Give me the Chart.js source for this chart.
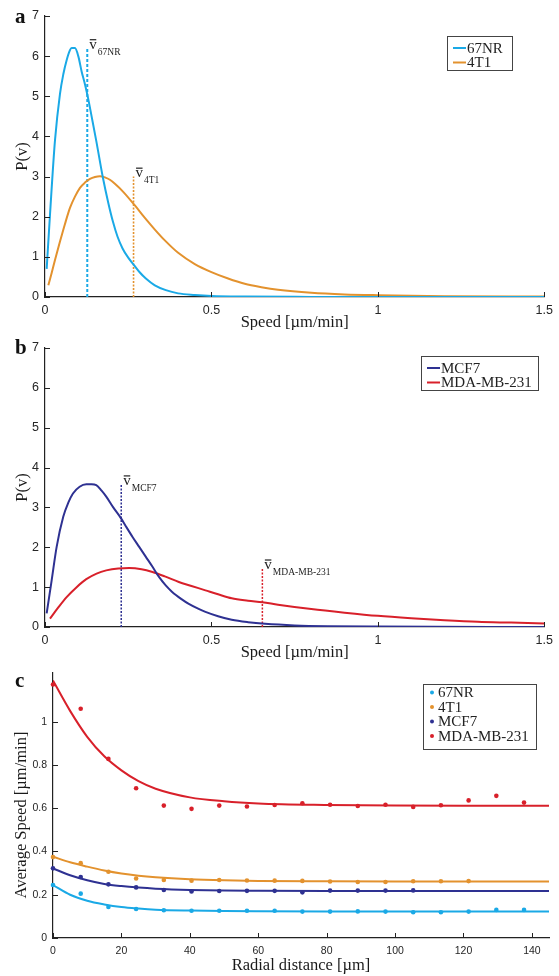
<!DOCTYPE html>
<html>
<head>
<meta charset="utf-8">
<script src="https://cdn.jsdelivr.net/npm/chart.js@4.4.1/dist/chart.umd.min.js"></script>
<style>
body { margin: 0; background: #fff; }
canvas { position: absolute; left: 0; }
</style>
</head>
<body>
<canvas id="chartA" width="559" height="330" style="top:0px"></canvas>
<canvas id="chartB" width="559" height="330" style="top:330px"></canvas>
<canvas id="chartC" width="559" height="316" style="top:660px"></canvas>
<script>
// panel a: speed distributions
const nr67Speed = [0.005, 0.015, 0.03, 0.045, 0.055, 0.065, 0.075, 0.08, 0.09, 0.10, 0.11, 0.12, 0.13, 0.14, 0.154, 0.174, 0.19, 0.204, 0.218, 0.233, 0.25, 0.268, 0.285, 0.303, 0.33, 0.363, 0.40, 0.45, 0.50, 0.60, 0.80, 1.0, 1.5];
const nr67Prob = [0.7, 2.05, 3.9, 5.06, 5.55, 5.9, 6.15, 6.2, 6.2, 6.0, 5.62, 5.3, 4.93, 4.5, 3.89, 2.97, 2.35, 1.88, 1.5, 1.21, 0.98, 0.79, 0.61, 0.46, 0.29, 0.17, 0.09, 0.05, 0.025, 0.01, 0.003, 0.001, 0];
const t41Speed = [0.01, 0.02, 0.03, 0.045, 0.06, 0.075, 0.09, 0.105, 0.12, 0.135, 0.15, 0.165, 0.18, 0.195, 0.21, 0.235, 0.27, 0.30, 0.33, 0.36, 0.40, 0.45, 0.50, 0.55, 0.60, 0.65, 0.70, 0.80, 0.90, 1.0, 1.2, 1.5];
const t41Prob = [0.29, 0.6, 0.92, 1.38, 1.82, 2.22, 2.5, 2.72, 2.85, 2.94, 2.99, 3.01, 2.98, 2.92, 2.82, 2.62, 2.28, 1.97, 1.68, 1.41, 1.1, 0.82, 0.62, 0.46, 0.33, 0.245, 0.18, 0.105, 0.065, 0.045, 0.02, 0.01];

// panel b
const mcf7Speed = [0.005, 0.02, 0.035, 0.055, 0.07, 0.084, 0.104, 0.124, 0.14, 0.154, 0.17, 0.184, 0.205, 0.229, 0.245, 0.263, 0.283, 0.303, 0.323, 0.343, 0.362, 0.382, 0.41, 0.432, 0.46, 0.482, 0.52, 0.561, 0.61, 0.661, 0.75, 0.85, 1.0, 1.5];
const mcf7Prob = [0.34, 1.17, 2.01, 2.77, 3.12, 3.35, 3.52, 3.58, 3.58, 3.56, 3.42, 3.27, 3.0, 2.72, 2.5, 2.26, 2.01, 1.76, 1.51, 1.25, 1.05, 0.88, 0.7, 0.58, 0.46, 0.38, 0.27, 0.18, 0.12, 0.08, 0.04, 0.02, 0.01, 0];
const mdaSpeed = [0.015, 0.04, 0.065, 0.095, 0.124, 0.155, 0.184, 0.22, 0.253, 0.29, 0.323, 0.36, 0.402, 0.44, 0.482, 0.52, 0.561, 0.61, 0.653, 0.70, 0.80, 0.90, 1.0, 1.1, 1.2, 1.3, 1.4, 1.5];
const mdaProb = [0.21, 0.49, 0.75, 1.0, 1.2, 1.34, 1.42, 1.47, 1.48, 1.45, 1.38, 1.27, 1.13, 1.03, 0.92, 0.82, 0.72, 0.66, 0.62, 0.56, 0.45, 0.36, 0.28, 0.22, 0.17, 0.13, 0.11, 0.09];

// mean speeds (x) and heights of the marker lines
const meanNames = ['67NR', '4T1', 'MCF7', 'MDA-MB-231'];
const meanSpeed = [0.127, 0.266, 0.229, 0.653];
const meanTop = [6.2, 3.0, 3.58, 1.47];

// panel c: average speed vs radial distance
const radialDist = [0, 8.1, 16.2, 24.3, 32.4, 40.5, 48.6, 56.7, 64.8, 72.9, 81, 89.1, 97.2, 105.3, 113.4, 121.5, 129.6, 137.7];
const nr67Avg = [0.245, 0.205, 0.143, 0.134, 0.128, 0.126, 0.126, 0.126, 0.126, 0.122, 0.122, 0.123, 0.122, 0.119, 0.119, 0.122, 0.13, 0.13];
const t41Avg = [0.374, 0.346, 0.306, 0.275, 0.268, 0.265, 0.268, 0.266, 0.265, 0.264, 0.261, 0.259, 0.259, 0.262, 0.262, 0.263];
const mcf7Avg = [0.322, 0.282, 0.248, 0.234, 0.222, 0.215, 0.217, 0.218, 0.218, 0.211, 0.219, 0.219, 0.219, 0.22];
const mdaAvg = [1.172, 1.06, 0.828, 0.692, 0.612, 0.597, 0.612, 0.608, 0.615, 0.623, 0.616, 0.61, 0.616, 0.606, 0.614, 0.636, 0.657, 0.626];

const fitDist = [0, 5, 10, 15, 20, 25, 30, 40, 50, 60, 80, 100, 120, 145];
const nr67Fit = [0.245, 0.2, 0.172, 0.155, 0.143, 0.136, 0.131, 0.127, 0.125, 0.124, 0.123, 0.123, 0.123, 0.123];
const t41Fit = [0.376, 0.35, 0.33, 0.312, 0.298, 0.288, 0.281, 0.272, 0.267, 0.264, 0.262, 0.261, 0.261, 0.261];
const mcf7Fit = [0.322, 0.29, 0.267, 0.25, 0.24, 0.233, 0.228, 0.222, 0.219, 0.218, 0.217, 0.217, 0.217, 0.217];
const mdaFit = [1.19, 1.05, 0.93, 0.84, 0.775, 0.725, 0.69, 0.65, 0.632, 0.622, 0.615, 0.612, 0.611, 0.611];

const colors = { '67NR': '#1aa9e6', '4T1': '#e3922e', 'MCF7': '#2e3192', 'MDA-MB-231': '#d8202a' };
const SERIF = '"Liberation Serif", "Times New Roman", serif';
const SANS = '"Liberation Sans", Arial, sans-serif';

function pairs(xs, ys) {
    return xs.slice(0, ys.length).map((x, i) => ({ x: x, y: ys[i] }));
}

// ticks pointing into the plot, like the original
const innerTicks = {
    id: 'innerTicks',
    afterDatasetsDraw(chart) {
        const ctx = chart.ctx;
        const xs = chart.scales.x, ys = chart.scales.y;
        ctx.save();
        ctx.strokeStyle = '#222';
        ctx.lineWidth = 1;
        xs.ticks.forEach(t => {
            const px = Math.round(xs.getPixelForValue(t.value)) + 0.5;
            ctx.beginPath();
            ctx.moveTo(px, ys.bottom);
            ctx.lineTo(px, ys.bottom - 5);
            ctx.stroke();
        });
        ys.ticks.forEach(t => {
            const py = Math.round(ys.getPixelForValue(t.value)) + 0.5;
            ctx.beginPath();
            ctx.moveTo(xs.left, py);
            ctx.lineTo(xs.left + 5, py);
            ctx.stroke();
        });
        ctx.restore();
    }
};

// boxed legend placed inside the plot
const boxLegend = {
    id: 'boxLegend',
    afterDraw(chart, args, opts) {
        const ctx = chart.ctx;
        const items = chart.data.datasets.filter(d => d.inLegend);
        ctx.save();
        ctx.fillStyle = '#fff';
        ctx.fillRect(opts.x, opts.y, opts.w, opts.h);
        ctx.strokeStyle = '#444';
        ctx.lineWidth = 1;
        ctx.strokeRect(opts.x + 0.5, opts.y + 0.5, opts.w, opts.h);
        ctx.font = '15px ' + SERIF;
        ctx.textBaseline = 'middle';
        items.forEach((d, i) => {
            const cy = opts.y + opts.first + i * opts.step;
            if (opts.marker === 'dot') {
                ctx.fillStyle = d.backgroundColor;
                ctx.beginPath();
                ctx.arc(opts.x + 9, cy, 2, 0, Math.PI * 2);
                ctx.fill();
                ctx.fillStyle = '#222';
                ctx.fillText(d.label, opts.x + 15, cy + 1);
            } else {
                ctx.strokeStyle = d.borderColor;
                ctx.lineWidth = 2;
                ctx.beginPath();
                ctx.moveTo(opts.x + 6, cy);
                ctx.lineTo(opts.x + 19, cy);
                ctx.stroke();
                ctx.fillStyle = '#222';
                ctx.fillText(d.label, opts.x + 20, cy + 1);
            }
        });
        ctx.restore();
    }
};

// v-bar labels at the top of the mean lines, panel letter, optional y title
const annotate = {
    id: 'annotate',
    afterDraw(chart, args, opts) {
        const ctx = chart.ctx;
        const xs = chart.scales.x, ys = chart.scales.y;
        ctx.save();
        ctx.fillStyle = '#222';
        (opts.means || []).forEach(i => {
            const px = xs.getPixelForValue(meanSpeed[i]);
            const py = ys.getPixelForValue(meanTop[i]);
            ctx.font = '15px ' + SERIF;
            ctx.textBaseline = 'alphabetic';
            ctx.fillText('v', px + 2, py + 0.5);
            const w = ctx.measureText('v').width;
            ctx.fillRect(px + 2.5, py - 9, w - 1, 1.2);
            ctx.font = '9.5px ' + SERIF;
            ctx.fillText(meanNames[i], px + 2 + w + 1, py + 6.5);
        });
        if (opts.yTitle) {
            ctx.save();
            ctx.translate(opts.yTitle.x, opts.yTitle.y);
            ctx.rotate(-Math.PI / 2);
            ctx.font = '16.5px ' + SERIF;
            ctx.fillStyle = '#1a1a1a';
            ctx.textAlign = 'center';
            ctx.textBaseline = 'middle';
            ctx.fillText(opts.yTitle.text, 0, 0);
            ctx.restore();
        }
        ctx.font = 'bold 21px ' + SERIF;
        ctx.fillStyle = '#111';
        ctx.textBaseline = 'alphabetic';
        ctx.fillText(opts.letter, opts.lx, opts.ly);
        ctx.restore();
    }
};

function axis(min, max, step, tickMax, title, size, tickFont, pad, titlePad) {
    return {
        type: 'linear',
        min: min,
        max: max,
        ticks: {
            stepSize: step,
            padding: pad,
            color: '#262626',
            font: { family: SANS, size: tickFont },
            maxRotation: 0,
            autoSkip: false,
            callback: v => String(Math.round(v * 100) / 100)
        },
        afterBuildTicks: s => {
            const out = [];
            for (let k = 0; min + k * step <= tickMax + 1e-9; k++) {
                out.push({ value: Math.round((min + k * step) * 1000) / 1000 });
            }
            s.ticks = out;
        },
        grid: { display: true, drawOnChartArea: false, drawTicks: false },
        border: { display: true, color: '#222', width: 1.2 },
        title: {
            display: title !== '',
            text: title,
            color: '#1a1a1a',
            font: { family: SERIF, size: 16.5, lineHeight: 1 },
            padding: titlePad
        },
        afterFit: s => {
            if (s.isHorizontal()) s.height = size; else s.width = size;
        }
    };
}

function meanLine(i, dash, width) {
    return {
        label: 'mean ' + meanNames[i],
        data: [{ x: meanSpeed[i], y: 0 }, { x: meanSpeed[i], y: meanTop[i] }],
        borderColor: colors[meanNames[i]],
        borderWidth: width,
        borderDash: dash,
        pointRadius: 0,
        showLine: true
    };
}

function curve(label, xs, ys) {
    return {
        label: label,
        inLegend: true,
        data: pairs(xs, ys),
        borderColor: colors[label],
        backgroundColor: colors[label],
        borderWidth: 2,
        pointRadius: 0,
        showLine: true,
        cubicInterpolationMode: 'monotone'
    };
}

function speedChart(id, datasets, legendOpts, annotateOpts, topPad) {
    return new Chart(document.getElementById(id), {
        type: 'scatter',
        data: { datasets: datasets },
        options: {
            responsive: false,
            animation: false,
            layout: { padding: { top: topPad, right: 11, left: 0, bottom: 0 } },
            scales: {
                x: axis(0, 1.5, 0.5, 1.5, 'Speed [µm/min]', 33, 12.5, 6, { top: 0, bottom: -1 }),
                y: axis(0, 7, 1, 7, 'P(v)', 45, 12.5, 6, { top: 14, bottom: 0 })
            },
            plugins: {
                legend: { display: false },
                tooltip: { enabled: false },
                boxLegend: legendOpts,
                annotate: annotateOpts
            }
        },
        plugins: [innerTicks, boxLegend, annotate]
    });
}

speedChart('chartA', [
    curve('67NR', nr67Speed, nr67Prob),
    curve('4T1', t41Speed, t41Prob),
    meanLine(0, [3, 2], 2),
    meanLine(1, [2, 1.5], 1.6)
], { x: 447, y: 36, w: 65, h: 34, first: 12, step: 14.5, marker: 'line' },
   { means: [0, 1], letter: 'a', lx: 15, ly: 23 }, 16);

speedChart('chartB', [
    curve('MCF7', mcf7Speed, mcf7Prob),
    curve('MDA-MB-231', mdaSpeed, mdaProb),
    meanLine(2, [2, 1.5], 1.5),
    meanLine(3, [2, 1.5], 1.5)
], { x: 421, y: 26, w: 117, h: 34, first: 12, step: 14.5, marker: 'line' },
   { means: [2, 3], letter: 'b', lx: 15, ly: 24 }, 18);

function dots(label, ys) {
    return {
        label: label,
        inLegend: true,
        data: pairs(radialDist, ys),
        backgroundColor: colors[label],
        borderWidth: 0,
        pointRadius: 2.3,
        clip: false
    };
}

function fit(label, ys) {
    return {
        label: label + ' fit',
        data: pairs(fitDist, ys),
        borderColor: colors[label],
        borderWidth: 2,
        pointRadius: 0,
        showLine: true,
        cubicInterpolationMode: 'monotone'
    };
}

new Chart(document.getElementById('chartC'), {
    type: 'scatter',
    data: {
        datasets: [
            dots('67NR', nr67Avg),
            dots('4T1', t41Avg),
            dots('MCF7', mcf7Avg),
            dots('MDA-MB-231', mdaAvg),
            fit('67NR', nr67Fit),
            fit('4T1', t41Fit),
            fit('MCF7', mcf7Fit),
            fit('MDA-MB-231', mdaFit)
        ]
    },
    options: {
        responsive: false,
        animation: false,
        layout: { padding: { top: 13, right: 10, left: 0, bottom: 0 } },
        scales: {
            x: axis(0, 145, 20, 140, 'Radial distance [µm]', 38, 10.5, 7, { top: 0, bottom: 2 }),
            y: axis(0, 1.225, 0.2, 1.0, '', 53, 10.5, 6, { top: 13, bottom: 0 })
        },
        plugins: {
            legend: { display: false },
            tooltip: { enabled: false },
            boxLegend: { x: 423, y: 24, w: 113, h: 65, first: 8.5, step: 14.5, marker: 'dot' },
            annotate: { letter: 'c', lx: 15, ly: 27, yTitle: { text: 'Average Speed [µm/min]', x: 22, y: 155 } }
        }
    },
    plugins: [innerTicks, boxLegend, annotate]
});
</script>
</body>
</html>
